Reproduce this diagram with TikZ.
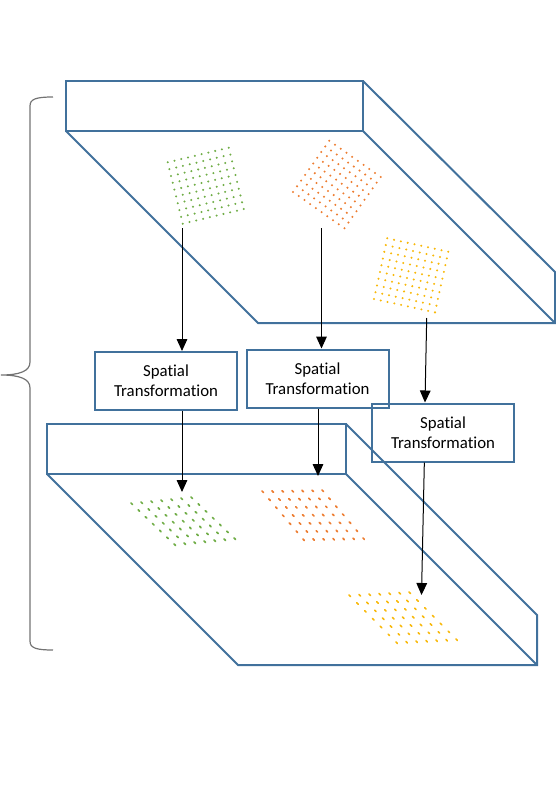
\documentclass[tikz,border=0pt]{standalone}
\usepackage{fontspec}
\setmainfont{Carlito}[Ligatures=NoCommon]
\usetikzlibrary{arrows.meta}
\definecolor{layerblue}{RGB}{65,113,156}
\definecolor{dotgreen}{RGB}{112,173,71}
\definecolor{dotorange}{RGB}{237,125,49}
\definecolor{dotyellow}{RGB}{248,184,10}
\begin{document}
\begin{tikzpicture}[x=0.75pt, y=-0.75pt,
        layer/.style={draw=layerblue, line width=1.5pt},
        stbox/.style={draw=layerblue, line width=1.5pt, minimum width=106.5pt, minimum height=43.5pt,
            inner sep=0pt, align=center, font=\fontsize{12.6}{14.8}\selectfont},
        flow/.style={-{Triangle[width=8pt,length=9pt]}, line width=0.75pt}]
    \useasboundingbox (0,0) rectangle (556,793);
    % upper layer
    \draw[layer] (66,81) rectangle (363,131);
    \draw[layer] (66,131) -- (258,323) -- (555,323) -- (555,272) -- (363,81);
    \draw[layer] (363,131) -- (555,323);
    % lower layer
    \draw[layer] (47,424) rectangle (346,474);
    \draw[layer] (47,474) -- (238,665) -- (537,665) -- (537,615) -- (346,424);
    \draw[layer] (346,474) -- (537,665);

    % rotated patches on the upper layer
    \foreach \ox/\oy/\rx/\ry/\cx/\cy/\col in {167.7/162.3/6.78/-1.62/1.67/6.82/dotgreen,
            329.3/140.7/5.71/4.03/-4.03/5.7/dotorange, 387.3/238.3/6.78/1.49/-1.48/6.74/dotyellow}
        \foreach \i in {0,...,9} \foreach \j in {0,...,9}
            \fill[\col] ({\ox+\i*\rx+\j*\cx}, {\oy+\i*\ry+\j*\cy}) circle (0.85pt);
    % warped patches on the lower layer
    \foreach \ox/\oy/\rx/\ry/\cx/\cy/\col in {131/503/10/-1/7.17/6.83/dotgreen,
            262/491/10/-0.17/6.83/8/dotorange, 349/595/10/-0.5/7.83/7.83/dotyellow}
        \foreach \i in {0,...,6} \foreach \j in {0,...,6}
            \draw[\col, line width=1.3pt, line cap=round] ({\ox+\i*\rx+\j*\cx}, {\oy+\i*\ry+\j*\cy}) -- ++(1.4,1.4);

    \node[stbox] (st1) at (166,381) {Spatial\\Transformation};
    \node[stbox] (st2) at (317.5,378.5) {Spatial\\Transformation};
    \node[stbox] (st3) at (443,432.5) {Spatial\\Transformation};

    \coordinate (g1) at (182,228);
    \coordinate (o1) at (321.5,228);
    \coordinate (y1) at (426.7,318);
    \coordinate (g2) at (182,492);
    \coordinate (o2) at (318,476);
    \coordinate (y2) at (421.5,595);

    \draw[flow] (g1) -- (g1 |- st1.north);
    \draw[flow] (o1) -- (o1 |- st2.north);
    \draw[flow] (y1) -- ([xshift=-13.5pt]st3.north);
    \draw[flow] (g2 |- st1.south) -- (g2);
    \draw[flow] (o2 |- st2.south) -- (o2);
    \draw[flow] ([xshift=-14pt]st3.south) -- (y2);

    % brace
    \draw[black!55, line width=0.9pt] (53,97) .. controls (36,97) and (30,99) .. (30,106) -- (30,362)
        .. controls (30,371) and (20,375) .. (1,375) .. controls (20,375) and (30,379) .. (30,388)
        -- (30,641) .. controls (30,648) and (36,650) .. (53,650);
\end{tikzpicture}
\end{document}
